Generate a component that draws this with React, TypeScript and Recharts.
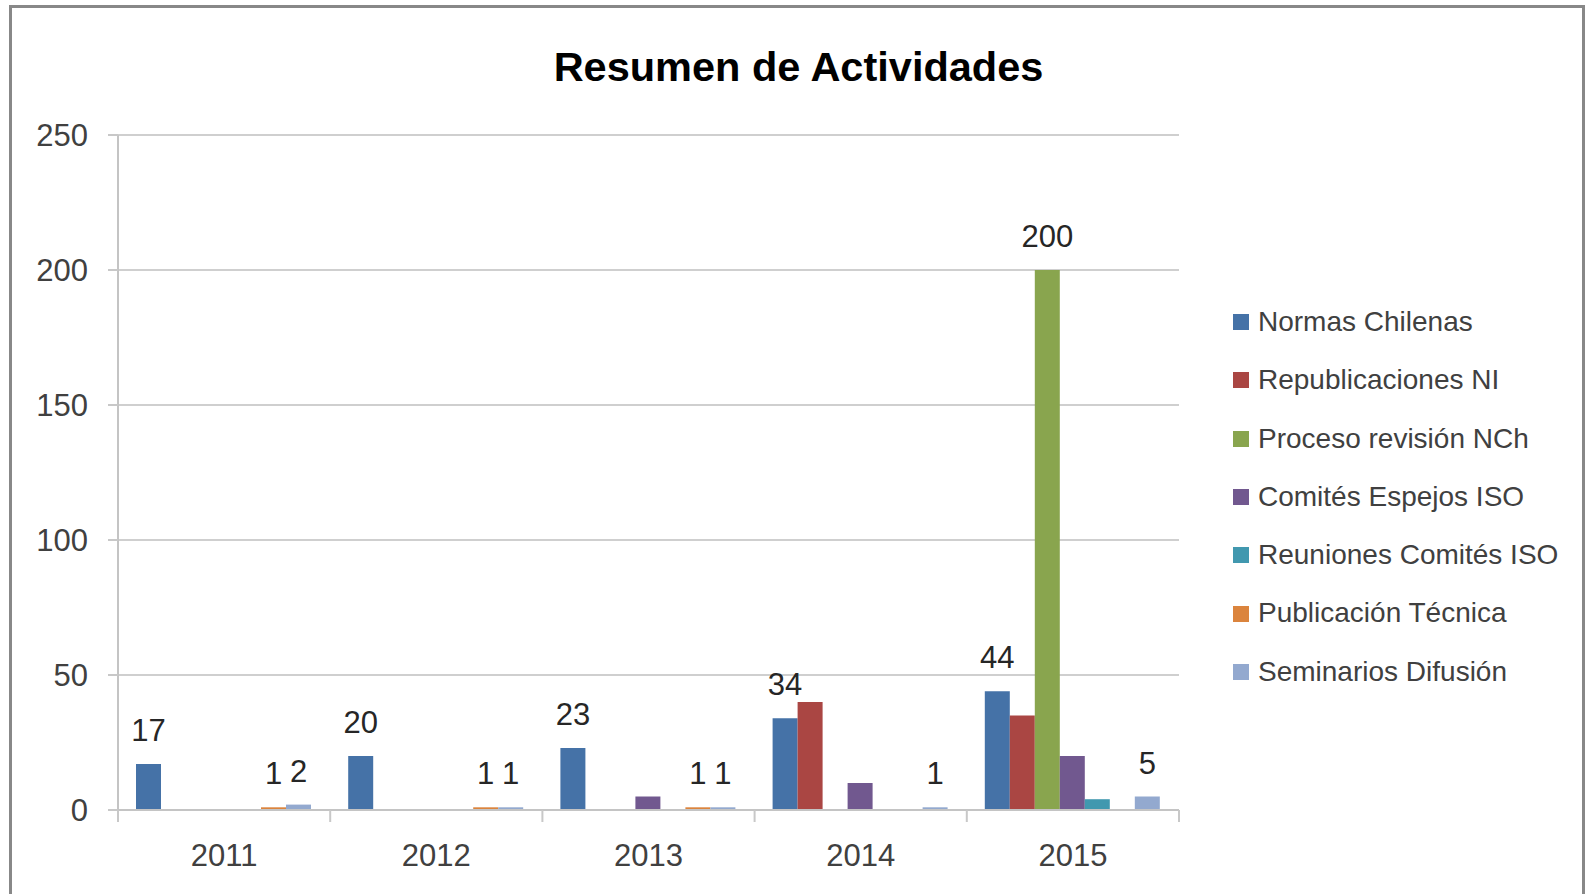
import { Bar, BarChart, CartesianGrid, LabelList, Legend, XAxis, YAxis } from "recharts";

const years = ["2011", "2012", "2013", "2014", "2015"];
const normasChilenas = [17, 20, 23, 34, 44];
const republicacionesNI = [null, null, null, 40, 35];
const procesoRevisionNCh = [null, null, null, null, 200];
const comitesEspejosISO = [null, null, 5, 10, 20];
const reunionesComitesISO = [null, null, null, null, 4];
const publicacionTecnica = [1, 1, 1, null, null];
const seminariosDifusion = [2, 1, 1, 1, 5];
const yTicks = [0, 50, 100, 150, 200, 250];
const boundaryTicks = [0, 1, 2, 3, 4, 5];

const FONT = '"Liberation Sans", Arial, sans-serif';

const series = [
	{ key: "normas", name: "Normas Chilenas", color: "#4572A7", values: normasChilenas, labelled: true },
	{ key: "republicaciones", name: "Republicaciones NI", color: "#AA4643", values: republicacionesNI, labelled: false },
	{ key: "proceso", name: "Proceso revisión NCh", color: "#89A54E", values: procesoRevisionNCh, labelled: true },
	{ key: "espejos", name: "Comités Espejos ISO", color: "#71588F", values: comitesEspejosISO, labelled: false },
	{ key: "reuniones", name: "Reuniones Comités ISO", color: "#4198AF", values: reunionesComitesISO, labelled: false },
	{ key: "publicacion", name: "Publicación Técnica", color: "#DB843D", values: publicacionTecnica, labelled: true },
	{ key: "seminarios", name: "Seminarios Difusión", color: "#93A9CF", values: seminariosDifusion, labelled: true },
];

const chartData = years.map((year, index) => {
	const row: Record<string, string | number | null> = { year, slot: index + 0.5 };
	for (const s of series) {
		row[s.key] = s.values[index];
	}
	return row;
});

function LegendList() {
	return (
		<ul style={{ listStyle: "none", margin: 0, padding: 0, fontFamily: FONT }}>
			{series.map((s) => (
				<li
					key={s.key}
					style={{
						height: 58.3,
						lineHeight: "58.3px",
						fontSize: 28,
						color: "#404040",
						whiteSpace: "nowrap",
						display: "flex",
						alignItems: "center",
					}}
				>
					<span
						style={{
							display: "inline-block",
							width: 16,
							height: 16,
							background: s.color,
							marginRight: 9,
						}}
					/>
					{s.name}
				</li>
			))}
		</ul>
	);
}

// tick marks only, the labels come from the category axis
function EmptyTick() {
	return <g />;
}

export default function App() {
	return (
		<div
			style={{
				position: "absolute",
				left: 0,
				top: 0,
				width: 1587,
				height: 894,
				overflow: "hidden",
				background: "#ffffff",
				fontFamily: FONT,
			}}
		>
			<div
				style={{
					position: "absolute",
					left: 9,
					top: 5,
					width: 1570,
					height: 920,
					border: "3px solid #888888",
				}}
			/>
			<div
				style={{
					position: "absolute",
					left: 0,
					width: 1597,
					top: 46,
					textAlign: "center",
					fontSize: 41.5,
					lineHeight: "41px",
					fontWeight: "bold",
					color: "#000000",
				}}
			>
				Resumen de Actividades
			</div>
			<div style={{ position: "absolute", left: 0, top: 0 }}>
				<BarChart
					width={1587}
					height={894}
					data={chartData}
					margin={{ top: 135, right: 48, bottom: 33, left: 58 }}
					barCategoryGap={18}
					barGap={0}
				>
					<CartesianGrid vertical={false} stroke="#cfcfcf" strokeWidth={2} />
					<XAxis
						xAxisId="bounds"
						type="number"
						dataKey="slot"
						domain={[0, 5]}
						ticks={boundaryTicks}
						tick={EmptyTick}
						tickSize={12}
						tickLine={{ stroke: "#c8c8c8", strokeWidth: 2 }}
						axisLine={{ stroke: "#c4c4c4", strokeWidth: 2 }}
						height={1}
						allowDataOverflow
					/>
					<XAxis
						xAxisId="cat"
						dataKey="year"
						height={50}
						tickLine={false}
						tickSize={0}
						tickMargin={33}
						axisLine={false}
						tick={{ fill: "#404040", fontSize: 31, fontFamily: FONT }}
					/>
					<YAxis
						domain={[0, 250]}
						ticks={yTicks}
						width={60}
						tickSize={10}
						tickMargin={20}
						axisLine={{ stroke: "#c4c4c4", strokeWidth: 2 }}
						tickLine={{ stroke: "#c8c8c8", strokeWidth: 2 }}
						tick={{ fill: "#404040", fontSize: 31, fontFamily: FONT }}
					/>
					<Legend
						layout="vertical"
						align="right"
						verticalAlign="top"
						content={() => <LegendList />}
						wrapperStyle={{ left: 1233, top: 293, width: 360 }}
					/>
					{series.map((s) => (
						<Bar
							key={s.key}
							xAxisId="cat"
							dataKey={s.key}
							name={s.name}
							fill={s.color}
							isAnimationActive={false}
						>
							{s.labelled ? (
								<LabelList
									dataKey={s.key}
									position="top"
									offset={23}
									fill="#262626"
									fontSize={31}
									fontFamily={FONT}
								/>
							) : null}
						</Bar>
					))}
				</BarChart>
			</div>
		</div>
	);
}
